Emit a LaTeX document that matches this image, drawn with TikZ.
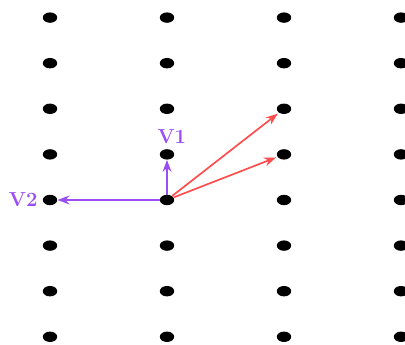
\documentclass[tikz,border=0pt]{standalone}
\usetikzlibrary{shapes.geometric,arrows.meta,positioning}
\definecolor{basis}{HTML}{9B4DF5}
\definecolor{target}{HTML}{FF4D4D}

\begin{document}
\begin{tikzpicture}[x=2.925cm, y=1.14cm,
  dot/.style={ellipse, fill=black, inner sep=0pt, minimum width=0.36cm, minimum height=0.26cm},
  vec/.style={-{Stealth[length=3mm, width=2.2mm]}, line width=1.2pt, basis},
  tvec/.style={-{Stealth[length=3mm, width=2.2mm]}, line width=1.2pt, target, shorten >=1pt},
  lbl/.style={font=\Large\bfseries, text=basis}
]
  \useasboundingbox (-1.4274,-3.18) rectangle (2.0342,4.386);
  \foreach \i in {-1,0,1,2}
    \foreach \j in {-3,...,4}
      \node[dot] (p\i\j) at (\i,\j) {};

  \draw[tvec] (p00) -- (p12);
  \draw[tvec] (p00) -- (p11);
  \draw[vec] (p00) -- (p01);
  \draw[vec] (p00) -- (p-10);

  \node[lbl, above=0pt of p01, xshift=0.12cm] (v1) {V1};
  \node[lbl, left=0pt of p-10] (v2) {V2};
\end{tikzpicture}
\end{document}
